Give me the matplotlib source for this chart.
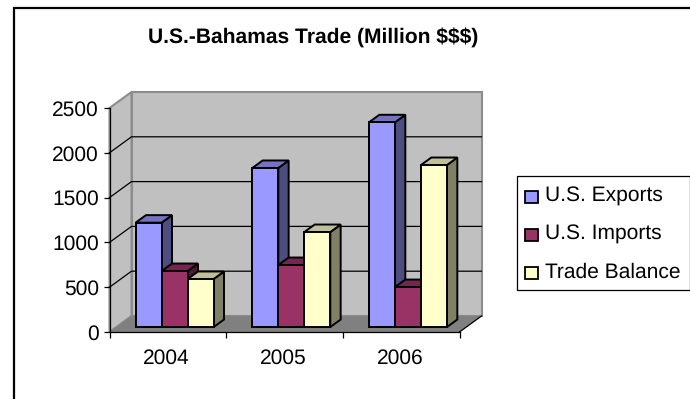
#!/usr/bin/python
# Grafico de barras 3D del comercio EEUU-Bahamas
import matplotlib
matplotlib.use('Agg')
import matplotlib.pyplot as plt
from matplotlib.patches import Polygon, Rectangle

plt.rcParams['font.family'] = ['Liberation Sans', 'DejaVu Sans']
plt.rcParams['text.hinting'] = 'no_hinting'
plt.rcParams['text.hinting_factor'] = 1

YEARS = ['2004', '2005', '2006']
SERIES = ['U.S. Exports', 'U.S. Imports', 'Trade Balance']
EXPORTS = [1165, 1775, 2285]
IMPORTS = [625, 692, 446]
BALANCE = [536, 1060, 1808]
Y_TICKS = [0, 500, 1000, 1500, 2000, 2500]

FACE = ['#9999FF', '#993366', '#FFFFCC']
SIDE = ['#4D4D80', '#4D1A33', '#808066']
TOP = ['#7373BF', '#732650', '#BFBF99']

W, H = 690, 399
LEFT, RIGHT, BASE, CEIL = 109.5, 459.5, 332.0, 108.0
DEPTH_X = 22.0 / (RIGHT - LEFT) * 3     # profundidad en unidades de categoria
DEPTH_Y = 16.0 / (BASE - CEIL) * 2500   # profundidad en unidades de valor
BAR_W = 26.0 / (RIGHT - LEFT) * 3
FS = 15.2


def p(x, v, d=0.0):
    # proyeccion oblicua: d=0 frente, d=1 pared del fondo
    return (x + d * DEPTH_X, v + d * DEPTH_Y)


fig = plt.figure(figsize=(W / 100, H / 100), dpi=100, facecolor='white')
ax = fig.add_axes([LEFT / W, 1 - BASE / H, (RIGHT - LEFT) / W, (BASE - CEIL) / H])
ax.set_xlim(0, 3)
ax.set_ylim(0, 2500)
ax.patch.set_visible(False)
for s in ['top', 'right']:
    ax.spines[s].set_visible(False)
for s in ['left', 'bottom']:
    ax.spines[s].set_linewidth(0.9)
    ax.spines[s].set_zorder(30)

# paredes y piso
ymax = Y_TICKS[-1]
ax.add_patch(Polygon([p(0, 0, 1), p(3, 0, 1), p(3, ymax, 1), p(0, ymax, 1)], fc='#C0C0C0', ec='#8C8C8C', lw=1.5, clip_on=False, zorder=1))
ax.add_patch(Polygon([p(0, 0), p(0, 0, 1), p(0, ymax, 1), p(0, ymax)], fc='#C0C0C0', ec='#8C8C8C', lw=1.5, clip_on=False, zorder=1))
ax.add_patch(Polygon([p(0, 0), p(3, 0), p(3, 0, 1), p(0, 0, 1)], fc='#808080', ec='none', clip_on=False, zorder=2))
ax.plot(*zip(p(3, 0), p(3, 0, 1)), color='black', lw=0.9, clip_on=False, zorder=3)

# grilla
for v in Y_TICKS[1:-1]:
    ax.plot(*zip(p(0, v), p(0, v, 1), p(3, v, 1)), color='black', lw=0.9, clip_on=False, zorder=3)

# barras, de atras hacia adelante en cada grupo
d0, d1 = 0.31, 0.78
z = 10
for i, year in enumerate(YEARS):
    start = i + 0.5 - 1.5 * BAR_W
    for j, vals in enumerate([EXPORTS, IMPORTS, BALANCE]):
        x0 = start + j * BAR_W
        x1 = x0 + BAR_W
        v = vals[i]
        kw = dict(ec='black', lw=1.4, clip_on=False, joinstyle='miter', zorder=z)
        ax.add_patch(Polygon([p(x1, 0, d0), p(x1, 0, d1), p(x1, v, d1), p(x1, v, d0)], fc=SIDE[j], **kw))
        ax.add_patch(Polygon([p(x0, v, d0), p(x1, v, d0), p(x1, v, d1), p(x0, v, d1)], fc=TOP[j], **kw))
        ax.bar(x0, v, BAR_W, bottom=0, align='edge', color=FACE[j], edgecolor='black', linewidth=1.4,
               clip_on=False, zorder=z + 1,
               transform=ax.transData + matplotlib.transforms.ScaledTranslation(
                   d0 * 22 / 100, d0 * 16 / 100, fig.dpi_scale_trans))
        z += 2

ax.set_xticks([0, 1, 2, 3])
ax.set_xticklabels([])
for i, year in enumerate(YEARS):
    ax.text(i + 0.49, -290, year, ha='center', va='center', fontsize=FS, color='black')
ax.set_yticks(Y_TICKS)
ax.tick_params(axis='both', length=4, width=0.9, labelsize=FS, pad=3.5)

fig.text(313 / W, 1 - 37 / H, 'U.S.-Bahamas Trade (Million $$$)', ha='center', va='center',
         fontsize=FS, fontweight='bold')

# leyenda armada a mano, con cuadros chicos
fig.add_artist(Rectangle((517 / W, 1 - 290 / H), 173 / W, 114 / H, transform=fig.transFigure,
                         fc='white', ec='black', lw=0.9))
for j, name in enumerate(SERIES):
    yc = 197 + j * 38
    fig.add_artist(Rectangle((524.5 / W, 1 - (yc + 6) / H), 13 / W, 12 / H, transform=fig.transFigure,
                             fc=FACE[j], ec='black', lw=1.3))
    fig.text(545 / W, 1 - (yc - 0.5) / H, name, ha='left', va='center', fontsize=FS)

# marco exterior
fig.add_artist(Rectangle((13.5 / W, -0.05), 2, 1 - 8.5 / H + 0.05, transform=fig.transFigure,
                         fc='none', ec='black', lw=1.6, clip_on=True))

fig.savefig('out.png', dpi=100)
plt.close()
